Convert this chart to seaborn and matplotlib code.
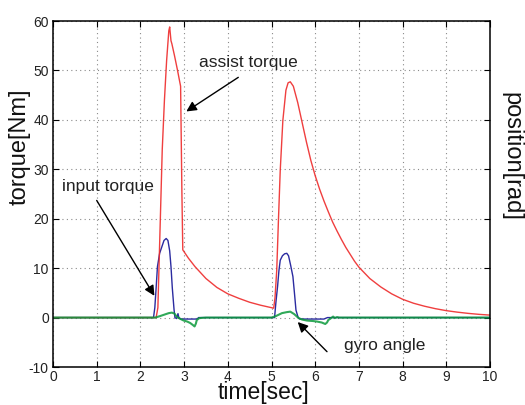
import matplotlib
matplotlib.use("Agg")
import matplotlib.pyplot as plt
import seaborn as sns

# ---- data ----
assist_t = [0, 2.36, 2.40, 2.45, 2.50, 2.55, 2.60, 2.65, 2.67, 2.70, 2.72, 2.78, 2.85, 2.90, 2.92,
            2.95, 2.97, 3.1, 3.25, 3.5, 3.75, 4.0, 4.25, 4.5, 4.75, 5.05,
            5.08, 5.12, 5.16, 5.20, 5.26, 5.33, 5.38, 5.43, 5.50, 5.60, 5.70, 5.80, 5.90,
            6.0, 6.1, 6.2, 6.3, 6.4, 6.5, 6.6, 6.7, 6.8, 6.9, 7.0, 7.25, 7.5, 7.75,
            8.0, 8.25, 8.5, 8.75, 9.0, 9.25, 9.5, 9.75, 10.0]
assist_v = [0, 0, 2, 18, 34, 44, 52, 58, 58.8, 56, 55.4, 53, 50, 47.7, 46.8,
            25, 13.7, 12.0, 10.3, 7.9, 6.1, 4.8, 3.9, 3.1, 2.5, 1.9,
            4, 9.6, 20, 29.8, 39.9, 46, 47.5, 47.7, 46.8, 43.5, 39.5, 35.5, 31.8,
            28.7, 26.0, 23.6, 21.4, 19.3, 17.5, 15.8, 14.2, 12.8, 11.4, 10.2, 7.9, 6.2, 4.8,
            3.7, 2.9, 2.3, 1.8, 1.4, 1.1, 0.85, 0.65, 0.5]

input_t = [0, 2.30, 2.33, 2.36, 2.39, 2.44, 2.49, 2.54, 2.59, 2.63, 2.67, 2.70, 2.73, 2.77, 2.79,
           2.83, 2.86, 2.88, 2.92, 3.30, 3.33, 5.07, 5.10, 5.14, 5.17, 5.20, 5.25, 5.30, 5.35,
           5.39, 5.44, 5.49, 5.53, 5.56, 5.61, 5.65, 6.20, 6.28, 10.0]
input_v = [0, 0, 2, 6, 10.3, 13, 14.3, 15.6, 16.0, 15.6, 13.5, 10.3, 6, 1.6, 0,
           -0.2, 0.8, 0, -0.3, -0.3, 0, 0, 3, 6.4, 9.5, 11.6, 12.5, 12.9, 13.0,
           12.5, 10.5, 8.3, 4.5, 1.5, 0, -0.3, -0.3, 0, 0]

gyro_t = [0, 2.34, 2.45, 2.55, 2.65, 2.72, 2.78, 2.83, 2.90, 2.99, 3.07, 3.14, 3.20, 3.24,
          3.27, 3.29, 3.35, 3.5, 5.0, 5.1, 5.24, 5.35, 5.43, 5.52, 5.62, 5.70, 5.81, 5.95,
          6.04, 6.15, 6.23, 6.27, 6.30, 6.35, 6.41, 6.45, 6.50, 6.55, 10.0]
gyro_v = [0, 0, 0.3, 0.6, 0.9, 1.0, 0.8, 0.2, -0.2, -0.6, -0.8, -1.1, -1.5, -1.8,
          -1.2, -0.5, -0.1, 0, 0, 0.3, 0.9, 1.1, 1.2, 0.7, -0.1, -0.4, -0.6, -0.7,
          -0.8, -1.0, -1.3, -1.0, -0.5, -0.2, 0.2, -0.1, 0.1, 0, 0]

x_ticks = [0, 1, 2, 3, 4, 5, 6, 7, 8, 9, 10]
y_ticks = [-10, 0, 10, 20, 30, 40, 50, 60]

# ---- style ----
sns.set_style("ticks")
plt.rcParams['font.family'] = ['Liberation Sans', 'DejaVu Sans']

fig = plt.figure(figsize=(5.25, 4.05), dpi=100)
ax = fig.add_axes([53 / 525, 1 - 367 / 405, (490 - 53) / 525, (367 - 21) / 405])

sns.lineplot(x=input_t, y=input_v, ax=ax, color='#2b2ba0', lw=1.0,
             estimator=None, sort=False)
sns.lineplot(x=assist_t, y=assist_v, ax=ax, color='#ee2a2a', lw=1.0,
             estimator=None, sort=False, alpha=0.9)
sns.lineplot(x=gyro_t, y=gyro_v, ax=ax, color='#0c9a3c', lw=1.5,
             estimator=None, sort=False, alpha=0.85)

ax.set_xlim(0, 10)
ax.set_ylim(-10, 60)
ax.set_xticks(x_ticks)
ax.set_yticks(y_ticks)
ax.set_xticklabels([str(v) for v in x_ticks])
ax.set_yticklabels([str(v) for v in y_ticks])
ax.tick_params(direction='in', top=True, right=True, length=4, width=0.8,
               labelsize=10, colors='black', labelcolor='#222222', pad=3)
ax.tick_params(axis='x', pad=2)
ax.grid(True, ls=(0, (1, 3)), color='#8a8a8a', lw=0.8)
for s in ax.spines.values():
    s.set_visible(True)
    s.set_color('black')
    s.set_linewidth(1.1)
ax.set_xlabel('')
ax.set_ylabel('')

fig.text(263.7 / 525, 1 - 399 / 405, 'time[sec]', ha='center', va='baseline',
         fontsize=16.5, color='#111111')
fig.text(20 / 525, 1 - 146.7 / 405, 'torque[Nm]', ha='center', va='center',
         rotation=90, fontsize=17, color='#111111')
fig.text(511 / 525, 1 - 156.7 / 405, 'position[rad]', ha='center', va='center',
         rotation=270, fontsize=17, color='#111111')

arrow = dict(arrowstyle='-|>', color='black', lw=1.0, mutation_scale=15,
             shrinkA=0, shrinkB=0)
ax.annotate('', xy=(3.05, 41.7), xytext=(4.24, 48.6), arrowprops=arrow)
ax.text(4.47, 51.6, 'assist torque', ha='center', va='center', fontsize=12.5, color='#222222')
ax.annotate('', xy=(2.32, 4.4), xytext=(1.0, 23.7), arrowprops=arrow)
ax.text(1.25, 26.6, 'input torque', ha='center', va='center', fontsize=12.5, color='#222222')
ax.annotate('', xy=(5.60, -0.9), xytext=(6.27, -6.9), arrowprops=arrow)
ax.text(7.58, -5.7, 'gyro angle', ha='center', va='center', fontsize=12.5, color='#222222')

fig.savefig('out.png', dpi=100)
